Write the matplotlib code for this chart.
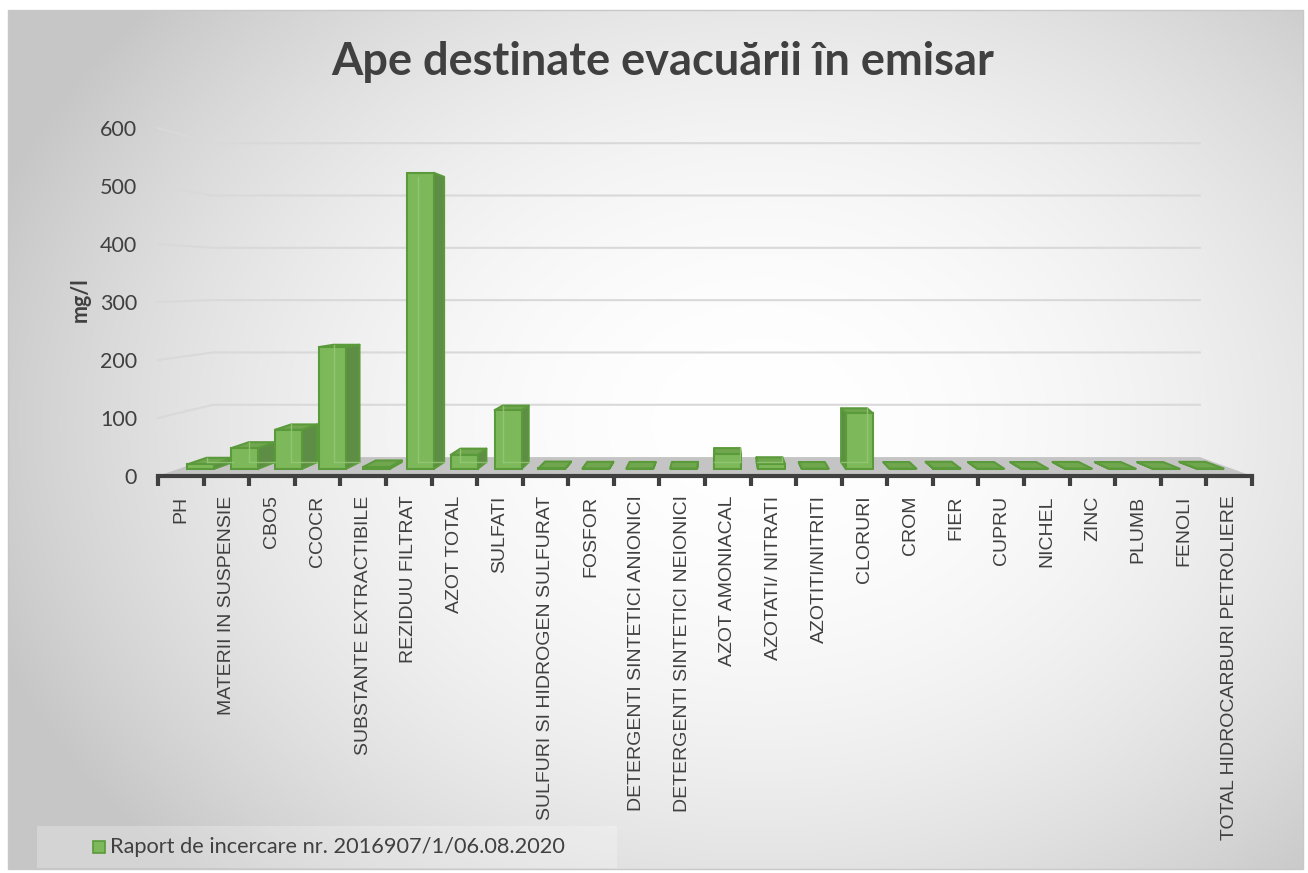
import numpy as np
import matplotlib
matplotlib.use('Agg')
import matplotlib.pyplot as plt
from matplotlib.patches import Polygon, Rectangle

# data (mg/l)
categories = ['PH', 'MATERII IN SUSPENSIE', 'CBO5', 'CCOCR', 'SUBSTANTE EXTRACTIBILE',
              'REZIDUU FILTRAT', 'AZOT TOTAL', 'SULFATI', 'SULFURI SI HIDROGEN SULFURAT',
              'FOSFOR', 'DETERGENTI SINTETICI ANIONICI', 'DETERGENTI SINTETICI NEIONICI',
              'AZOT AMONIACAL', 'AZOTATI/ NITRATI', 'AZOTITI/NITRITI', 'CLORURI', 'CROM',
              'FIER', 'CUPRU', 'NICHEL', 'ZINC', 'PLUMB', 'FENOLI',
              'TOTAL HIDROCARBURI PETROLIERE']
values = [8, 37, 70, 218, 3, 530, 25, 105, 1, 0.5, 0.3, 0.3,
          26, 9, 0.1, 100, 0.1, 0.6, 0.1, 0.1, 0.3, 0.1, 0.05, 0.5]
y_ticks = [0, 100, 200, 300, 400, 500, 600]
series_name = 'Raport de incercare nr. 2016907/1/06.08.2020'
title = 'Ape destinate evacuării în emisar'
y_label = 'mg/l'

W, H = 1308, 873
TXT = '#404040'
FRONT = '#7DB95B'
SIDE = '#5E8D45'
TOP = '#6FA64E'
EDGE = '#5B9A3A'

# simple perspective: vanishing point in data coords, depth d (0 = floor front)
VX, VY = 12.32, 332.8
PA = 0.0388
HW = 0.307
WALL_D = 2.8


def proj(x, y, d):
    s = 1.0 / (1.0 + PA * d)
    return VX + (x - VX) * s, VY + (y - VY) * s


fig = plt.figure(figsize=(W / 100, H / 100), dpi=100)

# background with radial gradient
bg = fig.add_axes([0, 0, 1, 1], zorder=-1)
bg.set_xlim(0, W)
bg.set_ylim(H, 0)
bg.axis('off')
yy, xx = np.mgrid[0:H, 0:W]
r = np.sqrt(((xx - 760) / 820.0) ** 2 + ((yy - 420) / 640.0) ** 2)
shade = 1.0 - 0.22 * np.clip(r, 0, 1) ** 2.0
img = np.dstack([shade, shade, shade])
bg.imshow(img, extent=(8, W - 5, 869, 10), aspect='auto')
bg.add_patch(Rectangle((8, 10), W - 13, 859, fill=False, ec='#c8c8c8', lw=1))
bg.add_patch(Rectangle((37, 826), 580, 42, fc='white', alpha=0.25, ec='none'))
bg.add_patch(Rectangle((93, 841), 12, 12, fc=FRONT, ec=EDGE, lw=1.2))
bg.text(110, 847, series_name, fontsize=15.7, family='Lato', color=TXT, va='center', ha='left')
bg.text(663, 62, title, fontsize=32.5, family='Lato', weight='bold', color=TXT,
        va='center', ha='center')
bg.text(80, 300, y_label, fontsize=15.5, family='Lato', weight='bold', color=TXT,
        va='center', ha='center', rotation=90)

ax = fig.add_axes([158 / W, (H - 476) / H, (1252 - 158) / W, (476 - 128) / H])
ax.set_facecolor('none')
ax.set_xlim(0, 24)
ax.set_ylim(0, 600)
for sp in ['top', 'right', 'left']:
    ax.spines[sp].set_visible(False)
ax.spines['bottom'].set_color('#404040')
ax.spines['bottom'].set_linewidth(3)
ax.spines['bottom'].set_zorder(6)

# floor
fl = [(0, 0), (24, 0), proj(24, 0, WALL_D), proj(0, 0, WALL_D)]
ax.add_patch(Polygon(fl, closed=True, fc='#c4c4c4', ec='none', zorder=1))

# gridlines: side wall then back wall
for v in y_ticks[1:]:
    x_b0, y_b = proj(0, v, WALL_D)
    x_b1, _ = proj(24, v, WALL_D)
    ax.plot([0, x_b0, x_b1], [v, y_b, y_b], color='#d9d9d9', lw=1.5, zorder=0.5,
            clip_on=False)

# bars
xc = np.arange(len(values)) + 0.5
vals = np.array(values, dtype=float)
xl1, yb1 = proj(xc - HW, 0, 1)
xr1, _ = proj(xc + HW, 0, 1)
_, yt1 = proj(xc, vals, 1)
xl2, yb2 = proj(xc - HW, 0, 2)
xr2, _ = proj(xc + HW, 0, 2)
_, yt2 = proj(xc, vals, 2)

for i in range(len(vals)):
    if xc[i] < VX:
        side = [(xr1[i], yb1), (xr1[i], yt1[i]), (xr2[i], yt2[i]), (xr2[i], yb2)]
    else:
        side = [(xl1[i], yb1), (xl1[i], yt1[i]), (xl2[i], yt2[i]), (xl2[i], yb2)]
    ax.add_patch(Polygon(side, closed=True, fc=SIDE, ec=EDGE, lw=1.5, zorder=2,
                         joinstyle='round'))
    if vals[i] < VY:
        top = [(xl1[i], yt1[i]), (xr1[i], yt1[i]), (xr2[i], yt2[i]), (xl2[i], yt2[i])]
        ax.add_patch(Polygon(top, closed=True, fc=TOP, ec=EDGE, lw=1.5, zorder=2,
                             joinstyle='round'))

ax.bar((xl1 + xr1) / 2, yt1 - yb1, width=xr1 - xl1, bottom=yb1, color=FRONT,
       edgecolor=EDGE, linewidth=1.5, zorder=3)

# back edges seen through the front faces
for i in range(len(vals)):
    ix = xl2[i] if xc[i] < VX else xr2[i]
    if vals[i] > 5:
        ax.plot([ix, ix], [yb2, yt2[i]], color='#98C978', lw=1, alpha=0.8, zorder=4)
        ax.plot([xl2[i], xr2[i]], [yb2, yb2], color='#98C978', lw=1, alpha=0.8, zorder=4)

# ticks
ax.set_yticks(y_ticks)
ax.set_yticklabels([str(t) for t in y_ticks], fontsize=15.5, family='Lato', color=TXT)
ax.tick_params(axis='y', length=0, pad=15)
ax.set_xticks(np.arange(0, 25))
ax.set_xticklabels([])
ax.tick_params(axis='x', which='major', length=7, width=3, color='#404040', direction='out')
ax.set_xticks(xc, minor=True)
ax.set_xticklabels(categories, minor=True, rotation=90, fontsize=14,
                   family='Liberation Sans', color=TXT)
ax.tick_params(axis='x', which='minor', length=0, pad=14)

fig.savefig('out.png', dpi=100)
